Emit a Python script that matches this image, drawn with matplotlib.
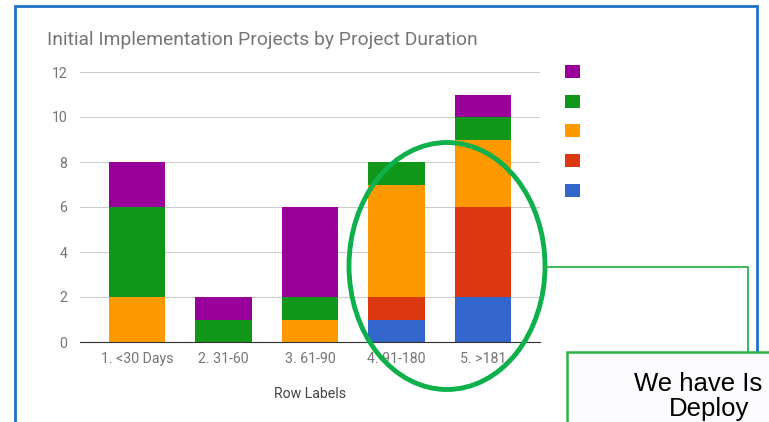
import matplotlib.pyplot as plt
from matplotlib.patches import Ellipse, Rectangle, Patch
from matplotlib.lines import Line2D
import numpy as np

# dados
categorias = ["1. <30 Days", "2. 31-60", "3. 61-90", "4. 91-180", "5. >181"]
azul = [0, 0, 0, 1, 2]
vermelho = [0, 0, 0, 1, 4]
laranja = [2, 0, 1, 5, 3]
verde = [4, 1, 1, 1, 1]
roxo = [2, 1, 4, 0, 1]

series = [azul, vermelho, laranja, verde, roxo]
cores = ["#3366cc", "#dc3912", "#ff9900", "#109618", "#990099"]

W, H = 769, 422


def fx(px):
    return px / W


def fy(py):
    return 1 - py / H


fig = plt.figure(figsize=(W / 100, H / 100), dpi=100)
plt.rcParams['font.family'] = ['Roboto', 'DejaVu Sans']

ax = fig.add_axes([fx(80), fy(342), fx(540) - fx(80), fy(72) - fy(342)])

x = np.arange(len(categorias))
base = np.zeros(len(categorias))
for vals, cor in zip(series, cores):
    ax.bar(x, vals, width=0.65, bottom=base, color=cor, zorder=3)
    base += np.array(vals)

ax.set_xlim(-0.66, 4.66)
ax.set_ylim(0, 12)
ax.set_yticks(range(0, 13, 2))
ax.set_xticks(x)
ax.set_xticklabels(categorias)
ax.grid(axis="y", color="#cccccc", linewidth=0.8, zorder=0)
for s in ["top", "right", "left"]:
    ax.spines[s].set_visible(False)
ax.spines["bottom"].set_color("#333333")
ax.spines["bottom"].set_zorder(4)
ax.tick_params(length=0, colors="#757575", labelsize=10.2)
ax.tick_params(axis="y", pad=9)
ax.tick_params(axis="x", pad=7)
ax.set_xlabel("Row Labels", fontsize=10.2, color="#444444", labelpad=15)

fig.text(fx(47), fy(40), "Initial Implementation Projects by Project Duration",
         fontsize=13.9, color="#757575", va="center", ha="left")

# legenda (textos em branco como no original)
handles = [Patch(facecolor=c) for c in reversed(cores)]
fig.legend(handles, [" "] * 5, loc="upper left",
           bbox_to_anchor=(fx(558), fy(58)), frameon=False, fontsize=10,
           handlelength=1.05, handleheight=1.05, labelspacing=1.12,
           borderpad=0, handletextpad=0.5)

# moldura azul
fig.add_artist(Rectangle((fx(15), fy(440)), fx(757) - fx(15), fy(6) - fy(440),
                         transform=fig.transFigure, fill=False,
                         edgecolor="#1f73c6", linewidth=2))

# elipse verde e conector
fig.add_artist(Ellipse((fx(447), fy(266)), fx(196), 247 / H,
                       transform=fig.transFigure, fill=False,
                       edgecolor="#0db04b", linewidth=3.5, zorder=10))
fig.add_artist(Line2D([fx(545), fx(748), fx(748)], [fy(267), fy(267), fy(352)],
                      transform=fig.transFigure, color="#2db34a",
                      linewidth=1.3, zorder=10))

# caixa de texto
fig.add_artist(Rectangle((fx(567), fy(440)), fx(800) - fx(567), fy(352) - fy(440),
                         transform=fig.transFigure, facecolor="#fcfcff",
                         edgecolor="#2db34a", linewidth=1.8, zorder=11))
fig.text(fx(634), fy(384), "We have Is", fontsize=18.5, color="black",
         family=["Liberation Sans", "DejaVu Sans"], va="center", ha="left",
         zorder=12)
fig.text(fx(669), fy(416), "Deploy", fontsize=18.5, color="black",
         family=["Liberation Sans", "DejaVu Sans"], va="baseline", ha="left",
         zorder=12)

fig.savefig("out.png", dpi=100)
